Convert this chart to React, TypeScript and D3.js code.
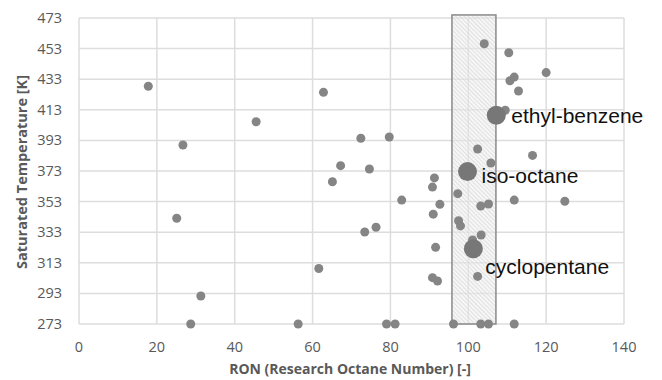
import React, { useEffect, useRef } from 'react';
import * as d3 from 'd3';

// RON / saturated temperature of the small (unlabelled) fuels
const smallRon = [
  17.8, 26.7, 45.5, 62.8, 104.1, 110.4, 120.0, 110.7, 111.8, 112.9,
  109.5, 72.4, 79.7, 102.4, 116.5, 67.2, 74.6, 105.8, 65.1, 91.3,
  90.8, 97.3, 82.9, 92.7, 103.2, 105.2, 111.8, 124.8, 91.0, 97.5,
  98.0, 73.4, 76.3, 25.1, 103.3, 101.1, 91.6, 61.6, 90.8, 92.1,
  102.4, 31.3, 28.7, 56.3, 79.0, 81.2, 96.2, 103.2, 105.2, 111.8,
];
const smallTemp = [
  428.4, 390, 405.2, 424.4, 456.2, 450.3, 437.3, 432.0, 434.4, 425.3,
  412.7, 394.4, 395.2, 387.4, 383.2, 376.5, 374.3, 378.2, 366, 368.5,
  362.5, 358.2, 354.0, 351.2, 350.1, 351.4, 354, 353.2, 344.8, 340.5,
  337.1, 333.1, 336.2, 342.1, 331.2, 327.9, 323.1, 309.3, 303.3, 301.1,
  304.1, 291.3, 273, 273, 273, 273, 273, 273, 273, 273,
];

// highlighted fuels
const labelNames = ['ethyl-benzene', 'iso-octane', 'cyclopentane'];
const labelRon = [107.2, 99.8, 101.3];
const labelTemp = [409.4, 372.6, 322.2];
const labelDx = [15, 14, 12];
const labelDy = [0, 4, 18];

// shaded RON window
const windowRon = [95.8, 107.1];
const windowTemp = [273, 475];

const xTicks = [0, 20, 40, 60, 80, 100, 120, 140];
const yTicks = [273, 293, 313, 333, 353, 373, 393, 413, 433, 453, 473];

export default function App() {
  const ref = useRef<SVGSVGElement>(null);

  useEffect(() => {
    const W = 662;
    const H = 380;
    const margin = { top: 18, right: 38, bottom: 56, left: 79 };
    const iw = W - margin.left - margin.right;
    const ih = H - margin.top - margin.bottom;

    const svg = d3.select(ref.current);
    svg.selectAll('*').remove();

    const x = d3.scaleLinear().domain([0, 140]).range([0, iw]);
    const y = d3.scaleLinear().domain([273, 473]).range([ih, 0]);

    const defs = svg.append('defs');
    const pat = defs.append('pattern')
      .attr('id', 'hatch')
      .attr('patternUnits', 'userSpaceOnUse')
      .attr('width', 3)
      .attr('height', 3)
      .attr('patternTransform', 'rotate(-45)');
    pat.append('rect').attr('width', 3).attr('height', 3).attr('fill', '#eeeeee').attr('fill-opacity', 0.55);
    pat.append('line')
      .attr('x1', 0).attr('y1', 0).attr('x2', 0).attr('y2', 3)
      .attr('stroke', '#bdbdbd').attr('stroke-opacity', 0.75).attr('stroke-width', 1);

    const g = svg.append('g').attr('transform', `translate(${margin.left},${margin.top})`);

    // grid
    g.append('g').selectAll('line')
      .data(yTicks)
      .enter()
      .append('line')
      .attr('x1', 0).attr('x2', iw)
      .attr('y1', d => y(d)).attr('y2', d => y(d))
      .attr('stroke', '#dddddd').attr('stroke-width', 1.5);
    g.append('g').selectAll('line')
      .data(xTicks)
      .enter()
      .append('line')
      .attr('y1', 0).attr('y2', ih)
      .attr('x1', d => x(d)).attr('x2', d => x(d))
      .attr('stroke', '#dddddd').attr('stroke-width', 1.5);

    const tickFont = '14.5px "Open Sans", sans-serif';
    const titleFont = 'bold 14px "Open Sans", sans-serif';

    // tick labels
    g.append('g').selectAll('text')
      .data(yTicks)
      .enter()
      .append('text')
      .attr('x', -17)
      .attr('y', d => y(d))
      .attr('dy', '0.35em')
      .attr('text-anchor', 'end')
      .attr('fill', '#595959')
      .style('font', tickFont)
      .text(d => d);
    g.append('g').selectAll('text')
      .data(xTicks)
      .enter()
      .append('text')
      .attr('x', d => x(d))
      .attr('y', ih + 23)
      .attr('dy', '0.35em')
      .attr('text-anchor', 'middle')
      .attr('fill', '#595959')
      .style('font', tickFont)
      .text(d => d);

    // RON window
    g.append('rect')
      .attr('x', x(windowRon[0]))
      .attr('y', y(windowTemp[1]))
      .attr('width', x(windowRon[1]) - x(windowRon[0]))
      .attr('height', y(windowTemp[0]) - y(windowTemp[1]))
      .attr('fill', 'url(#hatch)')
      .attr('stroke', '#8a8a8a')
      .attr('stroke-width', 1.5);

    // points
    g.append('g').selectAll('circle')
      .data(d3.range(smallRon.length))
      .enter()
      .append('circle')
      .attr('cx', i => x(smallRon[i]))
      .attr('cy', i => y(smallTemp[i]))
      .attr('r', 4.5)
      .attr('fill', '#858585');

    g.append('g').selectAll('circle')
      .data(d3.range(labelNames.length))
      .enter()
      .append('circle')
      .attr('cx', i => x(labelRon[i]))
      .attr('cy', i => y(labelTemp[i]))
      .attr('r', 9.5)
      .attr('fill', '#777777');

    g.append('g').selectAll('text')
      .data(d3.range(labelNames.length))
      .enter()
      .append('text')
      .attr('x', i => x(labelRon[i]) + labelDx[i])
      .attr('y', i => y(labelTemp[i]) + labelDy[i])
      .attr('dy', '0.35em')
      .attr('fill', '#111111')
      .style('font', '21px "Liberation Sans", Arial, sans-serif')
      .text(i => labelNames[i]);

    // axis titles
    svg.append('text')
      .attr('x', 350)
      .attr('y', 369)
      .attr('dy', '0.35em')
      .attr('text-anchor', 'middle')
      .attr('fill', '#595959')
      .style('font', titleFont)
      .text('RON (Research Octane Number) [-]');
    svg.append('text')
      .attr('transform', `translate(22,172) rotate(-90)`)
      .attr('dy', '0.35em')
      .attr('text-anchor', 'middle')
      .attr('fill', '#595959')
      .style('font', 'bold 14.5px "Open Sans", sans-serif')
      .text('Saturated Temperature [K]');
  }, []);

  return (
    <svg
      ref={ref}
      width={662}
      height={380}
      style={{ position: 'absolute', left: 0, top: 0, background: '#ffffff' }}
    />
  );
}
